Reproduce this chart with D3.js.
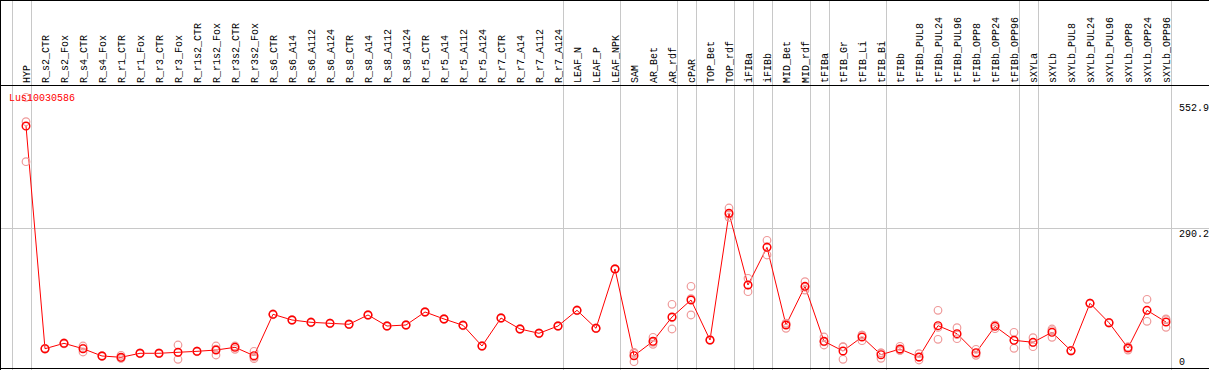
<!DOCTYPE html>
<html>
<head>
<meta charset="utf-8">
<script src="https://cdn.jsdelivr.net/npm/d3@7"></script>
<style>
  body { margin: 0; background: #fff; }
  svg text { font-family: "Liberation Mono", "DejaVu Sans Mono", monospace; font-size: 10px; }
</style>
</head>
<body>
<svg id="chart"></svg>
<script>
const WIDTH = 1209;
const HEIGHT = 370;

const geneName = 'Lus10030586';

const samples = [
  'HYP', 'R_s2_CTR', 'R_s2_Fox', 'R_s4_CTR', 'R_s4_Fox', 'R_r1_CTR', 'R_r1_Fox',
  'R_r3_CTR', 'R_r3_Fox', 'R_r1s2_CTR', 'R_r1s2_Fox', 'R_r3s2_CTR', 'R_r3s2_Fox',
  'R_s6_CTR', 'R_s6_A14', 'R_s6_A112', 'R_s6_A124', 'R_s8_CTR', 'R_s8_A14',
  'R_s8_A112', 'R_s8_A124', 'R_r5_CTR', 'R_r5_A14', 'R_r5_A112', 'R_r5_A124',
  'R_r7_CTR', 'R_r7_A14', 'R_r7_A112', 'R_r7_A124', 'LEAF_N', 'LEAF_P', 'LEAF_NPK',
  'SAM', 'AR_Bet', 'AR_rdf', 'cPAR', 'TOP_Bet', 'TOP_rdf', 'iFIBa', 'iFIBb',
  'MID_Bet', 'MID_rdf', 'tFIBa', 'tFIB_Gr', 'tFIB_Li', 'tFIB_Bi', 'tFIBb',
  'tFIBb_PUL8', 'tFIBb_PUL24', 'tFIBb_PUL96', 'tFIBb_OPP8', 'tFIBb_OPP24', 'tFIBb_OPP96',
  'sXYLa', 'sXYLb', 'sXYLb_PUL8', 'sXYLb_PUL24', 'sXYLb_PUL96', 'sXYLb_OPP8',
  'sXYLb_OPP24', 'sXYLb_OPP96'
];

// first sample of each tissue group (a separator is drawn before it)
const groupStarts = [
  'HYP', 'R_s2_CTR', 'LEAF_N', 'SAM', 'cPAR', 'TOP_Bet', 'iFIBa', 'iFIBb',
  'MID_Bet', 'tFIBa', 'tFIB_Gr', 'tFIBb', 'sXYLa', 'sXYLb'
];

const means = [
  501.8, 39.7, 50.9, 39.7, 24.6, 21.9, 30.2, 30.2, 32.3, 34.3, 37.0, 42.6, 25.2,
  111.1, 99.3, 94.5, 92.4, 90.4, 109.7, 86.8, 88.9, 115.9, 101.4, 88.3, 45.3,
  103.4, 80.6, 71.7, 86.8, 119.4, 82.1, 205.1,
  25.2, 55.1, 105.5, 140.8, 57.8, 320.7, 171.9, 250.1, 88.9, 169.2,
  55.1, 35.0, 64.0, 27.3, 39.1, 22.5, 87.5, 70.9, 31.4, 86.2, 57.2,
  53.0, 73.8, 35.6, 133.9, 93.7, 41.2, 119.4, 95.1
];

const replicates = [
  [561.4, 510.8, 427.8], [38.6, 39.9, 40.6], [49.8, 51.2, 51.7], [45.3, 32.9, 40.9],
  [23.6, 24.8, 25.4], [26.0, 20.1, 19.6], [29.3, 30.4, 30.9], [29.4, 30.1, 31.1],
  [47.4, 17.7, 31.8], [33.4, 34.6, 34.9], [45.3, 26.7, 39.0], [45.3, 38.5, 44.0],
  [34.3, 19.0, 22.3], [110.2, 111.4, 111.7], [98.4, 99.6, 99.9], [93.6, 94.8, 95.1],
  [91.5, 92.7, 93.0], [89.5, 90.7, 91.0], [108.8, 110.0, 110.3], [85.9, 87.1, 87.4],
  [88.0, 89.2, 89.5], [115.0, 116.2, 116.5], [100.5, 101.7, 102.0], [87.4, 88.6, 88.9],
  [44.4, 45.6, 45.9], [102.5, 103.7, 104.0], [79.7, 80.9, 81.2], [70.8, 72.0, 72.3],
  [85.9, 87.1, 87.4], [118.5, 119.7, 120.0], [81.2, 82.4, 82.7], [204.2, 205.4, 205.7],
  [32.3, 12.8, 30.5], [63.4, 48.9, 53.0], [131.9, 80.6, 104.0], [169.2, 109.7, 143.5],
  [56.9, 58.1, 58.4], [331.7, 312.4, 318.0], [185.8, 158.0, 171.9], [264.7, 234.2, 251.4],
  [82.1, 92.0, 92.6], [178.8, 161.5, 167.3], [64.0, 47.4, 53.9], [43.9, 17.7, 43.4],
  [56.3, 67.8, 67.9], [19.8, 31.0, 31.1], [44.7, 36.3, 36.3], [29.4, 16.3, 21.8],
  [119.4, 59.2, 83.9], [83.3, 60.5, 68.9], [38.5, 26.0, 29.7], [81.2, 88.7, 88.7],
  [73.8, 40.6, 57.2], [62.6, 43.9, 52.5], [80.6, 63.4, 77.4], [34.7, 35.9, 36.2],
  [133.0, 134.2, 134.5], [92.8, 94.0, 94.3], [37.0, 43.3, 43.3], [142.2, 96.6, 119.4],
  [101.4, 84.1, 99.8]
];

const tickValues = [0, 290.2, 552.9];
const gridValues = [290.2];

const HEADER = 85;
const PLOT = {left: 26, right: 1166, top: 101.4, bottom: 367.85};

const svg = d3.select('#chart')
  .attr('width', WIDTH)
  .attr('height', HEIGHT);

const x = d3.scalePoint()
  .domain(samples)
  .range([PLOT.left, PLOT.right]);

const y = d3.scaleLinear()
  .domain([0, 552.9])
  .range([PLOT.bottom, PLOT.top]);

const crisp = (v) => Math.round(v) + 0.5;

// group separators
const sepX = groupStarts.map((s) => x(s) - x.step() + 4.7)
  .concat([x(samples[samples.length - 1]) + 4.7]);

svg.append('g')
  .selectAll('line')
  .data(sepX)
  .enter()
  .append('line')
  .attr('x1', (d) => crisp(d))
  .attr('x2', (d) => crisp(d))
  .attr('y1', 0)
  .attr('y2', HEIGHT)
  .style('stroke', '#c8c8c8')
  .style('stroke-width', 1);

svg.append('g')
  .selectAll('line')
  .data(gridValues)
  .enter()
  .append('line')
  .attr('x1', 0)
  .attr('x2', WIDTH)
  .attr('y1', (d) => crisp(y(d)))
  .attr('y2', (d) => crisp(y(d)))
  .style('stroke', '#c8c8c8');

// frame
svg.append('path')
  .attr('d', `M0.5,${HEIGHT}V0.5H${WIDTH}M0,${HEADER + 0.5}H${WIDTH}M0,${HEIGHT - 1.5}H${WIDTH}`)
  .style('fill', 'none')
  .style('stroke', '#000')
  .attr('shape-rendering', 'crispEdges');

// sample labels
svg.append('g')
  .selectAll('text')
  .data(samples)
  .enter()
  .append('text')
  .attr('transform', (d) => `translate(${x(d)},${HEADER - 2}) rotate(-90)`)
  .attr('dy', '0.35em')
  .style('fill', '#000')
  .text((d) => d);

// right axis
const yAxis = d3.axisRight(y)
  .tickValues(tickValues)
  .tickSize(0)
  .tickPadding(0)
  .tickFormat((d) => d === 0 ? '0' : d3.format('.1f')(d));

const axisG = svg.append('g')
  .attr('transform', `translate(1179,0)`)
  .call(yAxis);
axisG.select('.domain').remove();
axisG.selectAll('.tick text')
  .attr('x', 0)
  .attr('dy', (d) => d === 0 ? '-0.3em' : '0.9em')
  .style('font-family', '"Liberation Mono", "DejaVu Sans Mono", monospace')
  .style('font-size', '10px')
  .style('fill', '#000');

// expression profile
const line = d3.line()
  .x((d, i) => x(samples[i]))
  .y((d) => y(d));

svg.append('path')
  .datum(means)
  .attr('d', line)
  .style('fill', 'none')
  .style('stroke', '#ff0000')
  .style('stroke-width', 1);

const repPoints = [];
replicates.forEach((r, i) => r.forEach((v) => repPoints.push({s: samples[i], v})));

svg.append('g')
  .selectAll('circle')
  .data(repPoints)
  .enter()
  .append('circle')
  .attr('cx', (d) => x(d.s))
  .attr('cy', (d) => y(d.v))
  .attr('r', 3.8)
  .style('fill', 'none')
  .style('stroke', '#ef9a9a')
  .style('stroke-width', 1.2);

svg.append('g')
  .selectAll('circle')
  .data(means)
  .enter()
  .append('circle')
  .attr('cx', (d, i) => x(samples[i]))
  .attr('cy', (d) => y(d))
  .attr('r', 3.8)
  .style('fill', 'none')
  .style('stroke', '#ff0000')
  .style('stroke-width', 1.4);

svg.append('text')
  .attr('x', 9)
  .attr('y', 101)
  .style('fill', '#ff0000')
  .text(geneName);
</script>
</body>
</html>
